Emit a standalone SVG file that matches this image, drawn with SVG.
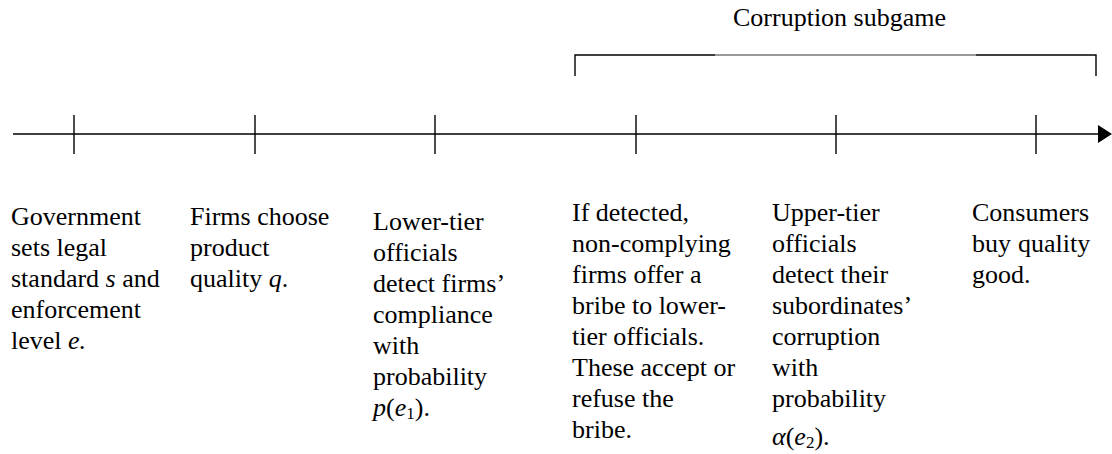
<svg xmlns="http://www.w3.org/2000/svg" width="1112" height="454" viewBox="0 0 1112 454">
<defs>
<style>
text{font-family:'Liberation Serif','Times New Roman',Times,'Nimbus Roman','DejaVu Serif',serif;font-size:26px;fill:#000}
.i{font-style:italic}
.sub{font-size:17px}
.ax{stroke:#000;stroke-width:1.6;fill:none}
.tk{stroke:#000;stroke-width:1.4;fill:none}
</style>
</defs>
<rect width="1112" height="454" fill="#fff"/>
<g id="connectors">
<line class="ax" x1="13" y1="134" x2="1100" y2="134"/>
<polygon points="1098,125 1112,134 1098,143" fill="#000"/>
<line class="tk" x1="74" y1="115" x2="74" y2="154"/>
<line class="tk" x1="255" y1="115" x2="255" y2="154"/>
<line class="tk" x1="435" y1="115" x2="435" y2="154"/>
<line class="tk" x1="636" y1="115" x2="636" y2="154"/>
<line class="tk" x1="836" y1="115" x2="836" y2="154"/>
<line class="tk" x1="1036" y1="115" x2="1036" y2="154"/>
</g>
<g id="bracket" font-family="Liberation Serif, serif">
<polyline points="575,76 575,55 715,55" class="tk"/>
<line x1="715" y1="55" x2="976" y2="55" stroke="#777" stroke-width="1.4"/>
<polyline points="976,55 1096,55 1096,76" class="tk"/>
<text x="733" y="26">Corruption subgame</text>
</g>
<g id="n1" font-family="Liberation Serif, serif">
<text x="11" y="225">Government</text>
<text x="11" y="256">sets legal</text>
<text x="11" y="287">standard <tspan class="i">s</tspan> and</text>
<text x="11" y="318">enforcement</text>
<text x="11" y="349">level <tspan class="i">e.</tspan></text>
</g>
<g id="n2" font-family="Liberation Serif, serif">
<text x="190" y="225">Firms choose</text>
<text x="190" y="256">product</text>
<text x="190" y="287">quality <tspan class="i">q</tspan>.</text>
</g>
<g id="n3" font-family="Liberation Serif, serif">
<text x="373" y="230">Lower-tier</text>
<text x="373" y="261">officials</text>
<text x="373" y="292">detect firms’</text>
<text x="373" y="323">compliance</text>
<text x="373" y="354">with</text>
<text x="373" y="385">probability</text>
<text x="373" y="416"><tspan class="i">p</tspan>(<tspan class="i">e</tspan><tspan class="sub" dy="3">1</tspan><tspan dy="-3">).</tspan></text>
</g>
<g id="n4" font-family="Liberation Serif, serif">
<text x="572" y="221">If detected,</text>
<text x="572" y="252">non-complying</text>
<text x="572" y="283">firms offer a</text>
<text x="572" y="314">bribe to lower-</text>
<text x="572" y="345">tier officials.</text>
<text x="572" y="376">These accept or</text>
<text x="572" y="407">refuse the</text>
<text x="572" y="438">bribe.</text>
</g>
<g id="n5" font-family="Liberation Serif, serif">
<text x="772" y="221">Upper-tier</text>
<text x="772" y="252">officials</text>
<text x="772" y="283">detect their</text>
<text x="772" y="314">subordinates’</text>
<text x="772" y="345">corruption</text>
<text x="772" y="376">with</text>
<text x="772" y="407">probability</text>
<text x="772" y="445"><tspan class="i">α</tspan>(<tspan class="i">e</tspan><tspan class="sub" dy="3">2</tspan><tspan dy="-3">).</tspan></text>
</g>
<g id="n6" font-family="Liberation Serif, serif">
<text x="972" y="221">Consumers</text>
<text x="972" y="252">buy<tspan x="1018">quality</tspan></text>
<text x="972" y="283">good.</text>
</g>
</svg>
